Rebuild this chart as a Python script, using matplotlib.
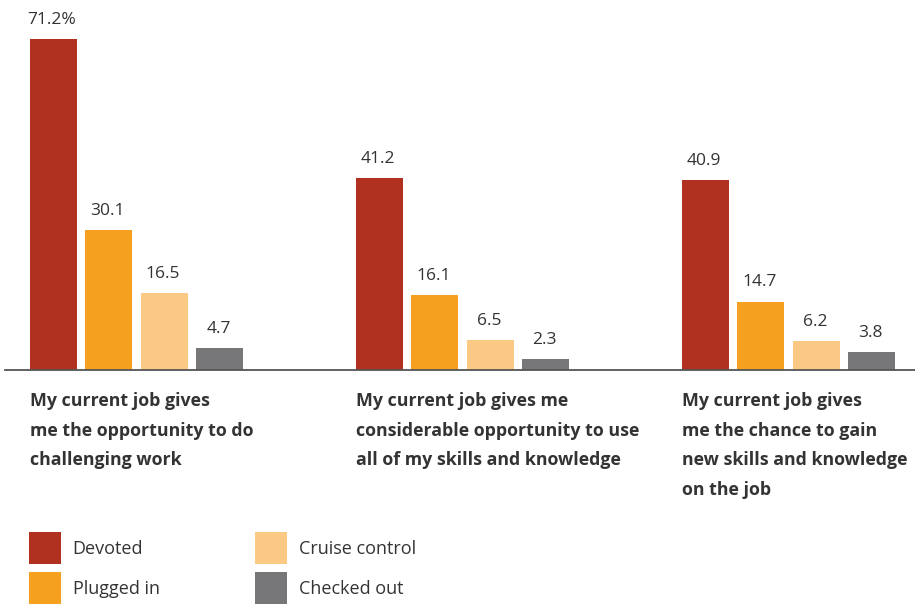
import matplotlib.pyplot as plt
import matplotlib.patches as ptchs
import numpy as np

# survey answers, percent of respondents per engagement segment
CATEGORIES = [
    "My current job gives\nme the opportunity to do\nchallenging work",
    "My current job gives me\nconsiderable opportunity to use\nall of my skills and knowledge",
    "My current job gives\nme the chance to gain\nnew skills and knowledge\non the job",
]
SEGMENTS = ["Devoted", "Plugged in", "Cruise control", "Checked out"]
DEVOTED = [71.2, 41.2, 40.9]
PLUGGED_IN = [30.1, 16.1, 14.7]
CRUISE_CONTROL = [16.5, 6.5, 6.2]
CHECKED_OUT = [4.7, 2.3, 3.8]

COLORS = ["#B0311F", "#F5A01E", "#FBC984", "#77777A"]
TEXT_COLOR = "#333333"

plt.rcParams["font.family"] = ["Open Sans", "DejaVu Sans"]

W, H = 915, 604
fig = plt.figure(figsize=(W / 100, H / 100), dpi=100)

# axes placed in pixel terms: baseline at y=370, one group step = 326 px
base_px = 370
ax = fig.add_axes([5 / W, (H - base_px) / H, 910 / W, 363 / H])
ax.set_xlim(-131.5 / 326, 778.5 / 326)
ax.set_ylim(0, 78)
ax.axis("off")
ax.axhline(0, color="#555555", lw=1.3, clip_on=False)

series = [DEVOTED, PLUGGED_IN, CRUISE_CONTROL, CHECKED_OUT]
step = 55.5 / 326
width = 47 / 326
x = np.arange(len(CATEGORIES))

for k, (vals, col) in enumerate(zip(series, COLORS)):
    pos = x + (k - 1.5) * step
    ax.bar(pos, vals, width=width, color=col, linewidth=0)
    for p, v, g in zip(pos, vals, x):
        label = f"{v}%" if (k == 0 and g == 0) else f"{v}"
        ax.annotate(label, (p, v), xytext=(-1, 8), textcoords="offset points",
                    ha="center", va="bottom", fontsize=12.5, color=TEXT_COLOR)

# category captions under each group, left-aligned to the first bar
for g, cat in enumerate(CATEGORIES):
    left = g - 1.5 * step - width / 2
    ax.annotate(cat, (left, 0), xytext=(0, -16), textcoords="offset points",
                ha="left", va="top", fontsize=12.8, fontweight="bold",
                color=TEXT_COLOR, linespacing=1.83, annotation_clip=False)

handles = [ptchs.Patch(facecolor=c, edgecolor="none") for c in COLORS]
fig.legend(handles, SEGMENTS, ncol=2, loc="upper left",
           bbox_to_anchor=(29 / W, 1 - 532 / H), frameon=False,
           fontsize=13, handlelength=1.77, handleheight=2.34,
           handletextpad=0.65, labelspacing=0.45, columnspacing=5.3,
           borderpad=0, borderaxespad=0, labelcolor=TEXT_COLOR)

fig.savefig("out.png", dpi=100, facecolor="white")
